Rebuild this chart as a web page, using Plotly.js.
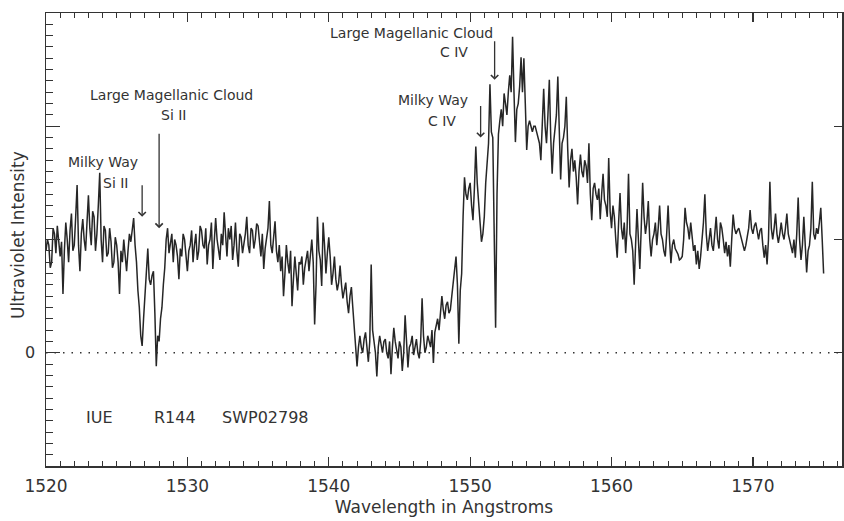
<!DOCTYPE html>
<html>
<head>
<meta charset="utf-8">
<script src="https://cdn.plot.ly/plotly-3.0.1.min.js"></script>
<style>
  html, body { margin: 0; padding: 0; background: #fff; }
  #chart { width: 844px; height: 521px; }
</style>
</head>
<body>
<div id="chart"></div>
<script>
// Wavelength sampling (Angstroms) of the spectrum
const lambdaStart = 1520.0;
const lambdaStep = 0.1;

// Ultraviolet intensity, one row per Angstrom (10 samples per row)
const intensity = [
  0.9, 1.0, 0.95, 0.75, 0.8, 1.1, 1.05, 0.88, 1.12, 0.95,       // 1520
  0.85, 0.98, 0.52, 0.9, 1.15, 1.0, 0.8, 1.08, 1.23, 0.9,       // 1521
  0.95, 1.2, 1.48, 0.95, 0.72, 1.05, 1.18, 1.0, 0.9, 1.15,      // 1522
  1.39, 1.1, 0.95, 1.25, 1.2, 0.9, 1.05, 1.3, 1.59, 1.0,        // 1523
  0.8, 1.12, 1.08, 0.85, 0.88, 1.1, 0.98, 0.75, 0.8, 1.02,      // 1524
  0.95, 0.8, 0.52, 0.9, 0.8, 1.0, 0.85, 0.72, 0.9, 1.05,        // 1525
  0.98, 1.12, 1.19, 0.95, 0.8, 0.55, 0.4, 0.15, 0.06, 0.3,      // 1526
  0.5, 0.7, 0.92, 0.65, 0.6, 0.68, 0.72, 0.35, -0.12, 0.15,     // 1527
  0.1, 0.3, 0.4, 0.6, 0.75, 1.0, 1.1, 0.88, 0.95, 1.05,         // 1528
  0.8, 1.0, 0.95, 0.85, 0.65, 0.92, 0.85, 1.05, 1.0, 0.85,      // 1529
  0.72, 0.9, 0.95, 1.08, 0.8, 0.95, 1.05, 0.82, 0.9, 1.12,      // 1530
  1.08, 0.95, 0.92, 1.1, 0.78, 0.95, 1.0, 1.15, 0.74, 0.98,     // 1531
  1.19, 1.0, 0.9, 0.82, 1.05, 0.95, 1.24, 1.0, 0.85, 1.1,       // 1532
  1.0, 1.12, 0.82, 0.95, 1.15, 0.9, 0.76, 1.05, 1.02, 0.88,     // 1533
  0.95, 1.05, 1.2, 0.95, 0.88, 1.1, 1.08, 0.92, 1.0, 1.14,      // 1534
  1.12, 0.95, 0.85, 1.05, 0.74, 0.92, 1.0, 1.1, 1.34, 0.95,     // 1535
  0.88, 1.0, 1.16, 0.9, 0.8, 0.95, 0.72, 0.85, 0.5, 0.7,        // 1536
  0.95, 0.8, 0.7, 0.9, 0.41, 0.65, 0.85, 0.7, 0.55, 0.8,        // 1537
  0.78, 0.85, 0.6, 0.75, 0.82, 0.9, 0.72, 0.85, 1.0, 0.8,       // 1538
  0.25, 0.6, 1.2, 0.9, 0.82, 0.59, 1.15, 0.95, 0.7, 0.88,       // 1539
  1.02, 0.85, 0.6, 0.7, 0.85, 0.65, 0.55, 0.62, 0.77, 0.6,      // 1540
  0.48, 0.55, 0.62, 0.45, 0.35, 0.5, 0.58, 0.4, 0.25, 0.1,      // 1541
  -0.12, 0.05, 0.15, 0.05, 0.0, 0.12, 0.18, 0.05, -0.08, 0.1,   // 1542
  0.78, 0.2, 0.1, 0.0, -0.21, 0.05, 0.15, 0.08, 0.0, 0.1,       // 1543
  0.12, 0.0, -0.05, 0.1, -0.19, 0.05, 0.22, 0.1, 0.02, -0.05,   // 1544
  0.1, 0.05, -0.16, 0.0, 0.33, 0.1, -0.13, 0.05, 0.08, 0.15,    // 1545
  -0.02, 0.05, 0.12, 0.0, -0.05, 0.1, 0.48, 0.15, 0.0, 0.05,    // 1546
  0.15, 0.1, 0.05, 0.2, -0.09, 0.18, 0.25, 0.3, 0.2, 0.35,      // 1547
  0.5, 0.38, 0.3, 0.42, 0.45, 0.35, 0.38, 0.5, 0.6, 0.72,       // 1548
  0.85, 0.6, 0.08, 0.55, 0.7, 1.2, 1.55, 1.4, 1.35, 1.45,       // 1549
  1.5, 1.3, 1.17, 1.45, 1.82, 1.5, 1.3, 1.1, 0.98, 1.05,        // 1550
  1.2, 1.5, 1.7, 1.85, 2.37, 1.95, 1.9, 1.2, 0.22, 1.4,         // 1551
  1.93, 2.05, 2.15, 2.0, 2.29, 2.2, 2.1, 2.3, 2.45, 2.3,        // 1552
  2.79, 2.3, 1.86, 2.15, 2.2, 2.35, 2.61, 2.3, 2.6, 2.2,        // 1553
  1.79, 2.0, 2.05, 2.0, 1.95, 2.0, 2.0, 1.95, 1.9, 1.85,        // 1554
  1.7, 1.95, 2.33, 2.0, 1.85, 2.1, 2.41, 1.9, 1.58, 1.85,       // 1555
  1.95, 2.1, 2.44, 1.9, 1.53, 1.85, 1.9, 2.0, 2.26, 1.8,        // 1556
  1.46, 1.7, 1.8, 1.6, 1.7, 1.55, 1.31, 1.6, 1.75, 1.6,         // 1557
  1.55, 1.7, 1.65, 1.5, 1.85, 1.4, 1.17, 1.45, 1.5, 1.4,        // 1558
  1.35, 1.45, 1.18, 1.4, 1.58, 1.35, 1.3, 1.2, 1.72, 1.25,      // 1559
  1.1, 1.3, 1.2, 1.0, 0.84, 1.15, 1.41, 1.1, 1.0, 1.15,         // 1560
  0.88, 1.1, 1.58, 1.05, 1.0, 0.9, 0.6, 0.95, 1.27, 1.0,        // 1561
  0.74, 1.1, 1.5, 1.2, 1.05, 1.15, 1.34, 1.0, 0.85, 1.0,        // 1562
  1.05, 1.15, 0.95, 1.1, 1.3, 1.05, 1.0, 0.9, 0.85, 1.05,       // 1563
  1.3, 1.0, 0.79, 0.95, 1.0, 0.92, 0.9, 0.87, 0.82, 0.83,       // 1564
  0.85, 1.0, 1.28, 1.15, 1.1, 1.0, 1.15, 1.0, 0.9, 0.95,        // 1565
  0.78, 0.9, 0.74, 0.85, 1.0, 1.15, 1.4, 1.05, 0.9, 1.0,        // 1566
  1.1, 0.95, 0.9, 1.05, 1.2, 1.0, 0.92, 1.15, 1.1, 1.0,         // 1567
  0.88, 0.98, 0.85, 0.95, 0.76, 1.0, 1.22, 1.1, 1.05, 1.08,     // 1568
  1.1, 1.05, 1.0, 0.95, 0.9, 0.95, 1.05, 1.1, 1.26, 1.1,        // 1569
  1.05, 1.12, 1.15, 1.05, 1.0, 1.08, 1.1, 0.95, 0.84, 0.95,     // 1570
  0.78, 1.0, 1.51, 1.1, 1.0, 1.1, 1.23, 1.05, 0.97, 1.05,       // 1571
  1.15, 1.05, 1.0, 1.1, 1.23, 1.05, 1.0, 0.95, 0.88, 1.0,       // 1572
  0.84, 1.05, 1.37, 1.0, 0.82, 0.95, 1.2, 0.95, 0.71, 0.9,      // 1573
  0.95, 1.1, 1.51, 1.05, 1.0, 1.1, 1.05, 1.15, 1.28, 1.0,       // 1574
  0.7                                                           // 1575
];

// Axis ticks
const xTick0 = 1520, xMajorStep = 10, xMinorStep = 1;
const yTick0 = 0, yMajorStep = 1, yMinorStep = 0.1;
const yLabelAlias = {'−1': '', '-1': '', '1': '', '2': '', '3': ''};
const yRightTickVals = [0, 1, 2];
const xRange = [1520, 1576.3];
const yRange = [-1, 3];
const zeroLevel = [0, 0];

// Line identifications: label text, label position, arrow tip (data units), arrow length (px)
const idLabels = [
  'Large Magellanic Cloud', 'Si II',
  'Milky Way', 'Si II',
  'Large Magellanic Cloud', 'C IV',
  'Milky Way', 'C IV'
];
const idLabelX = [1528.85, 1529.0, 1524.05, 1524.95, 1545.85, 1548.85, 1547.35, 1548.0];
const idLabelY = [2.28, 2.1, 1.68, 1.5, 2.82, 2.66, 2.23, 2.05];
const arrowX = [1528.0, 1526.8, 1551.73, 1550.74];
const arrowY = [1.1, 1.2, 2.41, 1.9];
const arrowLen = [96, 33, 40, 33];

// Observation tags
const tagText = ['IUE', 'R144', 'SWP02798'];
const tagX = [1523.8, 1529.1, 1535.5];
const tagY = [-0.57, -0.57, -0.57];

const wavelength = intensity.map((_, i) => +(lambdaStart + i * lambdaStep).toFixed(2));

const ink = '#333333';
const fontFam = 'DejaVu Sans, sans-serif';

const traces = [
  {
    x: wavelength, y: intensity,
    type: 'scatter', mode: 'lines',
    line: {color: '#262626', width: 1.5},
    hoverinfo: 'skip'
  },
  {
    x: xRange, y: zeroLevel,
    type: 'scatter', mode: 'lines',
    yaxis: 'y2',
    line: {color: '#333', width: 1.4, dash: '1.5px,7px'},
    hoverinfo: 'skip'
  }
];

const annotations = [];
idLabels.forEach((t, i) => {
  annotations.push({
    x: idLabelX[i], y: idLabelY[i], xref: 'x', yref: 'y',
    text: t, showarrow: false, xanchor: 'center', yanchor: 'middle',
    font: {family: fontFam, size: 14, color: ink}
  });
});
arrowX.forEach((ax, i) => {
  annotations.push({
    x: ax, y: arrowY[i], xref: 'x', yref: 'y',
    text: '', showarrow: true, ax: 0, ay: -arrowLen[i],
    arrowhead: 4, arrowsize: 1.1, arrowwidth: 1.3, arrowcolor: ink, standoff: 0
  });
});
tagText.forEach((t, i) => {
  annotations.push({
    x: tagX[i], y: tagY[i], xref: 'x', yref: 'y',
    text: t, showarrow: false, xanchor: 'center', yanchor: 'middle',
    font: {family: fontFam, size: 16, color: ink}
  });
});
// y-axis title
annotations.push({
  x: -0.0352, y: 0.51, xref: 'paper', yref: 'paper',
  text: 'Ultraviolet Intensity', textangle: -90, showarrow: false,
  xanchor: 'center', yanchor: 'middle',
  font: {family: fontFam, size: 17, color: ink}
});

const layout = {
  width: 844, height: 521,
  margin: {l: 46, r: 2, t: 13, b: 55, pad: 0},
  paper_bgcolor: '#ffffff', plot_bgcolor: '#ffffff',
  showlegend: false,
  font: {family: fontFam, color: ink},
  xaxis: {
    range: xRange, tickmode: 'linear', tick0: xTick0, dtick: xMajorStep,
    ticks: 'inside', ticklen: 9, tickwidth: 1.3, tickcolor: ink,
    showline: true, linecolor: ink, linewidth: 1.5, mirror: 'ticks',
    showgrid: false, zeroline: false,
    minor: {tickmode: 'linear', tick0: xTick0, dtick: xMinorStep, ticks: 'inside', ticklen: 5, tickwidth: 1, tickcolor: ink, showgrid: false},
    tickfont: {family: fontFam, size: 17, color: ink},
    ticklabelstandoff: 4,
    title: {text: 'Wavelength in Angstroms', font: {family: fontFam, size: 17, color: ink}, standoff: 6},
    automargin: false
  },
  yaxis: {
    range: yRange, tickmode: 'linear', tick0: yTick0, dtick: yMajorStep,
    labelalias: yLabelAlias,
    ticks: 'inside', ticklen: 14, tickwidth: 1.3, tickcolor: ink,
    showline: true, linecolor: ink, linewidth: 1.5, mirror: true,
    showgrid: false, zeroline: false,
    minor: {tickmode: 'linear', tick0: yTick0, dtick: yMinorStep, ticks: 'inside', ticklen: 7, tickwidth: 1, tickcolor: ink, showgrid: false},
    tickfont: {family: fontFam, size: 16, color: ink},
    ticklabelstandoff: 6,
    automargin: false
  },
  yaxis2: {
    range: yRange, overlaying: 'y', side: 'right', anchor: 'x',
    tickmode: 'array', tickvals: yRightTickVals, showticklabels: false,
    ticks: 'inside', ticklen: 8, tickwidth: 1.3, tickcolor: ink,
    showline: false, showgrid: false, zeroline: false
  },
  annotations: annotations
};

Plotly.newPlot('chart', traces, layout, {staticPlot: true, displayModeBar: false});
</script>
</body>
</html>
